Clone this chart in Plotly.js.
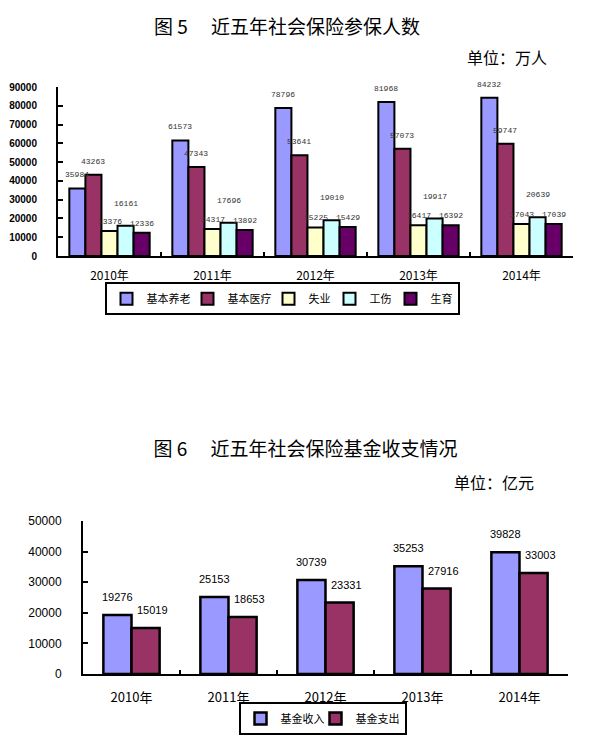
<!DOCTYPE html>
<html><head><meta charset="utf-8">
<script src="https://cdn.plot.ly/plotly-3.0.1.min.js"></script>
<style>html,body{margin:0;padding:0;background:#fff;} #c1,#c2{width:600px;height:370px;}</style>
</head><body><div id="c1"></div><div id="c2"></div>
<script>
// ---------- data ----------
const years = ['2010年', '2011年', '2012年', '2013年', '2014年'];
const seriesNames1 = ['基本养老', '基本医疗', '失业', '工伤', '生育'];
const pension = [35984, 61573, 78796, 81968, 84232];
const medical = [43263, 47343, 53641, 57073, 59747];
const unemployment = [13376, 14317, 15225, 16417, 17043];
const injury = [16161, 17696, 19010, 19917, 20639];
const maternity = [12336, 13892, 15429, 16392, 17039];
const yTicks1 = [0, 10000, 20000, 30000, 40000, 50000, 60000, 70000, 80000, 90000];

const seriesNames2 = ['基金收入', '基金支出'];
const fundIncome = [19276, 25153, 30739, 35253, 39828];
const fundExpense = [15019, 18653, 23331, 27916, 33003];
const yTicks2 = [0, 10000, 20000, 30000, 40000, 50000];

// ---------- styles ----------
const colors1 = ['#9999FF', '#993366', '#FFFFCC', '#CCFFFF', '#660066'];
const colors2 = ['#9999FF', '#993366'];
const CJK = 'Noto Sans CJK SC, sans-serif';
const SANS = 'Liberation Sans, Arial, sans-serif';
const MONO = 'Liberation Mono, monospace';
// per-series label offsets (style only)
const labelLift1 = [7, 7, 3, 16, 3];
const labelNudge1 = [0, 0, 0, 0, 0];
const legendW1 = [36, 36, 16, 16, null];
const labelLift2 = [10, 10];
const labelNudge2 = [0, 7];
const legendW2 = [30, null];

function makeBars(series, names, colors, lw, legendW) {
  return series.map((vals, i) => {
    const t = {
      type: 'bar', x: years, y: vals, name: names[i],
      marker: {color: colors[i], line: {color: '#000', width: lw}},
      hoverinfo: 'skip'
    };
    if (legendW[i]) t.legendwidth = legendW[i];
    return t;
  });
}
function makeLabels(series, barPx, lift, nudge, font) {
  const n = series.length, ann = [];
  series.forEach((vals, s) => vals.forEach((v, j) => ann.push({
    x: years[j], y: v, xref: 'x', yref: 'y', text: String(v), showarrow: false,
    xshift: (s - (n - 1) / 2) * barPx + nudge[s], yshift: lift[s], yanchor: 'bottom', font: font
  })));
  return ann;
}
function axisX(size, standoff) {
  return {type: 'category', tickson: 'boundaries', ticks: 'inside', ticklen: 4, tickwidth: 2, tickcolor: '#000',
    showline: true, linewidth: 2, linecolor: '#000', showgrid: false, zeroline: false,
    tickfont: {family: CJK, size: size, color: '#000'}, ticklabelstandoff: standoff, fixedrange: true};
}
function axisY(range, ticks, font, standoff) {
  return {range: range, tickvals: ticks, tickformat: 'd', ticks: 'inside', ticklen: 5, tickwidth: 2, tickcolor: '#000',
    showline: true, linewidth: 2, linecolor: '#000', showgrid: false, zeroline: false,
    tickfont: font, ticklabelstandoff: standoff, fixedrange: true};
}

// ---------- chart 1 ----------
const s1 = [pension, medical, unemployment, injury, maternity];
const gap1 = 0.22, plotW1 = 600 - 58 - 27;
const bar1 = plotW1 / years.length * (1 - gap1) / s1.length;
const ann1 = makeLabels(s1, bar1, labelLift1, labelNudge1, {family: MONO, size: 8, color: '#333'});
ann1.push({xref: 'paper', yref: 'paper', x: (465 - 58) / plotW1, y: (255.7 - 57) / 169, xanchor: 'left', yanchor: 'middle',
  text: '单位：万人', showarrow: false, font: {family: CJK, size: 16, color: '#000'}});
Plotly.newPlot('c1', makeBars(s1, seriesNames1, colors1, 2, legendW1), {
  width: 600, height: 370, margin: {l: 58, r: 27, t: 87, b: 114, autoexpand: false},
  paper_bgcolor: '#fff', plot_bgcolor: '#fff',
  bargap: gap1, bargroupgap: 0, barmode: 'group',
  title: {text: '图\u00a05\u3000\u00a0近五年社会保险参保人数', font: {family: CJK, size: 19, color: '#000'},
    xref: 'container', yref: 'container', x: 287 / 600, xanchor: 'center', y: 1 - 27 / 370, yanchor: 'middle'},
  xaxis: axisX(12, 8),
  yaxis: axisY([0, 90000], yTicks1, {family: SANS, size: 10, color: '#000', weight: 'bold'}, 17),
  showlegend: true,
  legend: {orientation: 'h', x: (282 - 58) / plotW1, xanchor: 'center', y: (255.7 - 282) / 169, yanchor: 'top',
    bordercolor: '#000', borderwidth: 2, font: {family: CJK, size: 11, color: '#000'}, itemwidth: 30, traceorder: 'normal'},
  annotations: ann1
}, {staticPlot: true});

// ---------- chart 2 ----------
const s2 = [fundIncome, fundExpense];
const gap2 = 0.42, plotW2 = 600 - 83 - 32;
const bar2 = plotW2 / years.length * (1 - gap2) / s2.length;
const ann2 = makeLabels(s2, bar2, labelLift2, labelNudge2, {family: SANS, size: 11, color: '#000'});
ann2.push({xref: 'paper', yref: 'paper', x: (452 - 83) / plotW2, y: (304 - 112) / 153, xanchor: 'left', yanchor: 'middle',
  text: '单位：亿元', showarrow: false, font: {family: CJK, size: 16, color: '#000'}});
Plotly.newPlot('c2', makeBars(s2, seriesNames2, colors2, 2.5, legendW2), {
  width: 600, height: 370, margin: {l: 83, r: 32, t: 151, b: 66, autoexpand: false},
  paper_bgcolor: '#fff', plot_bgcolor: '#fff',
  bargap: gap2, bargroupgap: 0, barmode: 'group',
  title: {text: '图\u00a06\u3000\u00a0近五年社会保险基金收支情况', font: {family: CJK, size: 19, color: '#000'},
    xref: 'container', yref: 'container', x: 305.5 / 600, xanchor: 'center', y: 1 - 79 / 370, yanchor: 'middle'},
  xaxis: axisX(13, 10),
  yaxis: axisY([0, 50000], yTicks2, {family: SANS, size: 12, color: '#000'}, 17),
  showlegend: true,
  legend: {orientation: 'h', x: (322.5 - 83) / plotW2, xanchor: 'center', y: (304 - 332) / 153, yanchor: 'top',
    bordercolor: '#000', borderwidth: 2, font: {family: CJK, size: 11, color: '#000'}, itemwidth: 30, traceorder: 'normal'},
  annotations: ann2
}, {staticPlot: true});
</script></body></html>
